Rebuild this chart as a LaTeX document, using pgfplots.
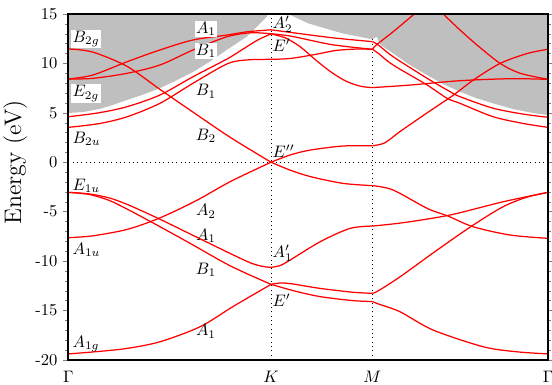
\documentclass[border=0pt]{standalone}
\usepackage{pgfplots}
\pgfplotsset{compat=1.18}
\pgfplotsset{band/.style={red, line width=0.75pt, smooth, mark=none}}
\tikzset{lab/.style={fill=white, inner sep=0.8pt}, labn/.style={inner sep=0.8pt}}
\begin{document}
\begin{tikzpicture}
\begin{axis}[
  scale only axis,
  width=287.8bp, height=207.5bp,
  xmin=0, xmax=2.366, ymin=-20, ymax=15,
  xtick={0,1,1.5,2.366},
  xticklabels={$\Gamma$,$K$,$M$,$\Gamma$},
  ytick={-20,-15,...,15},
  yticklabels={-20,-15,-10,-5,0,5,10,15},
  minor y tick num=4,
  tick align=outside,
  ytick pos=both, yticklabel pos=left,
  xtick style={draw=none},
  major tick length=3bp, minor tick length=1.8bp,
  axis line style={line width=1.2pt},
  axis on top,
  ylabel={Energy (eV)},
  ylabel style={font=\Large, at={(axis description cs:-0.111,0.571)}, anchor=center},
]
% high-symmetry lines and Fermi level
\addplot[black, dotted, line width=0.6pt] coordinates {(1,-20) (1,15)};
\addplot[black, dotted, line width=0.6pt] coordinates {(1.5,-20) (1.5,15)};
\addplot[black, dotted, line width=0.6pt] coordinates {(0,0) (2.366,0)};

% continuum (gray)
\addplot[draw=none, fill=black!25] coordinates {
(0,4.98) (0.08,5.1) (0.156,5.4) (0.22,5.8) (0.29,6.3) (0.37,6.85) (0.452,7.5)
(0.535,8.3) (0.617,9.16) (0.70,10.2) (0.781,11.36) (0.88,12.7) (0.93,13.7)
(0.979,14.73) (1.0,16) (1.05,15.8) (1.084,15) (1.183,14.06) (1.266,13.55)
(1.35,13.05) (1.498,12.44) (1.521,12.7) (1.538,11.9) (1.602,11.02) (1.68,9.9)
(1.768,8.83) (1.85,7.9) (1.931,7.14) (2.01,6.5) (2.095,5.96) (2.2,5.35)
(2.3,4.95) (2.366,4.78) (2.366,16.5) (0,16.5)};

% ---- Gamma - K ----
\addplot[band] coordinates {(0,-19.4) (0.15,-19.15) (0.29,-18.84) (0.452,-18.17) (0.65,-16.65) (0.813,-14.6) (1.0,-12.36)};
\addplot[band] coordinates {(0,-3.05) (0.1,-3.25) (0.2,-3.85) (0.3,-4.85) (0.45,-6.5) (0.6,-8.2) (0.8,-10.5) (1.0,-12.36)};
\addplot[band] coordinates {(0,-3.05) (0.1,-3.2) (0.2,-3.6) (0.3,-4.35) (0.45,-5.75) (0.6,-7.25) (0.8,-9.25) (0.9,-10.2) (0.96,-10.55) (1.0,-10.64)};
\addplot[band] coordinates {(0,-7.64) (0.12,-7.45) (0.29,-6.8) (0.45,-5.65) (0.63,-3.9) (0.8,-1.95) (1.0,0)};
\addplot[band] coordinates {(0,11.46) (0.12,11.15) (0.29,9.7) (0.45,7.4) (0.62,5.0) (0.8,2.5) (1.0,0)};
\addplot[band] coordinates {(0,8.42) (0.122,8.49) (0.29,9.0) (0.452,9.84) (0.615,11.36) (0.783,12.7) (0.9,13.1) (1.0,13.0)};
\addplot[band] coordinates {(0,8.42) (0.122,8.83) (0.29,10.17) (0.452,11.36) (0.615,12.37) (0.783,12.87) (0.882,13.2) (1.0,13.4)};
\addplot[band] coordinates {(0,4.6) (0.15,5.0) (0.29,5.62) (0.452,6.8) (0.615,8.65) (0.783,10.45) (0.855,11.36) (0.937,12.4) (1.0,12.98)};
\addplot[band] coordinates {(0,3.53) (0.15,3.9) (0.29,4.6) (0.452,5.96) (0.615,7.99) (0.783,9.95) (0.88,10.35) (1.0,10.41)};

% ---- K - M ----
\addplot[band] coordinates {(1.0,-12.36) (1.046,-12.22) (1.1,-12.3) (1.242,-12.77) (1.4,-13.15) (1.5,-13.27)};
\addplot[band] coordinates {(1.0,-12.36) (1.12,-13.05) (1.242,-13.6) (1.4,-14.0) (1.5,-14.1)};
\addplot[band] coordinates {(1.0,-10.64) (1.046,-10.45) (1.094,-9.9) (1.242,-8.05) (1.389,-6.7) (1.5,-6.46)};
\addplot[band] coordinates {(1.0,0) (1.094,0.73) (1.193,1.23) (1.355,1.64) (1.5,1.67)};
\addplot[band] coordinates {(1.0,0) (1.094,-0.8) (1.193,-1.45) (1.355,-2.14) (1.5,-2.37)};
\addplot[band] coordinates {(1.0,13.4) (1.11,13.1) (1.3,12.6) (1.5,12.2)};
\addplot[band] coordinates {(1.0,13.0) (1.1,12.75) (1.3,11.9) (1.5,11.43)};
\addplot[band] coordinates {(1.0,12.98) (1.069,12.6) (1.143,11.7) (1.217,10.4) (1.291,9.2) (1.365,8.25) (1.439,7.7) (1.5,7.55)};
\addplot[band] coordinates {(1.0,10.41) (1.094,10.5) (1.217,10.9) (1.316,11.3) (1.42,11.45) (1.5,11.43)};

% ---- M - Gamma ----
\addplot[band] coordinates {(1.5,-13.27) (1.53,-13.0) (1.636,-11.6) (1.819,-8.89) (1.997,-6.36) (2.145,-4.5) (2.26,-3.55) (2.366,-3.05)};
\addplot[band] coordinates {(1.5,-14.1) (1.53,-14.35) (1.636,-15.13) (1.799,-16.98) (2.046,-18.67) (2.21,-19.18) (2.366,-19.4)};
\addplot[band] coordinates {(1.5,-6.46) (1.651,-6.12) (1.883,-5.34) (2.145,-4.0) (2.366,-3.05)};
\addplot[band] coordinates {(1.5,1.67) (1.56,1.95) (1.636,3.1) (1.77,5.0) (1.9,6.8) (2.0,8.35) (2.13,10.0) (2.263,11.0) (2.366,11.43)};
\addplot[band] coordinates {(1.5,-2.37) (1.602,-2.81) (1.77,-4.67) (1.873,-5.45) (1.997,-6.53) (2.18,-7.37) (2.366,-7.7)};
\addplot[band] coordinates {(1.5,7.55) (1.686,7.81) (1.932,8.25) (2.18,8.45) (2.366,8.39)};
\addplot[band] coordinates {(1.5,12.2) (1.53,11.85) (1.602,10.68) (1.77,8.49) (1.883,7.14) (1.932,6.63) (2.096,5.46) (2.25,4.85) (2.366,4.55)};
\addplot[band] coordinates {(1.5,11.43) (1.53,11.0) (1.602,9.84) (1.77,7.81) (1.868,6.47) (1.932,5.96) (2.096,4.6) (2.25,3.9) (2.366,3.53)};
\addplot[band] coordinates {(1.5,11.43) (1.521,11.9) (1.602,13.2) (1.701,14.9) (1.75,15.7)};
\addplot[band] coordinates {(1.80,16.0) (1.849,15.0) (1.932,13.38) (2.016,11.86) (2.13,10.0) (2.229,9.0) (2.366,8.39)};

% ---- labels ----
\node[lab, anchor=west] at (axis cs:0.013,12.47) {$B_{2g}$};
\node[lab, anchor=west] at (axis cs:0.013,6.95) {$E_{2g}$};
\node[labn, anchor=west] at (axis cs:0.013,2.35) {$B_{2u}$};
\node[labn, anchor=west] at (axis cs:0.013,-2.41) {$E_{1u}$};
\node[labn, anchor=west] at (axis cs:0.013,-8.89) {$A_{1u}$};
\node[labn, anchor=west] at (axis cs:0.013,-18.4) {$A_{1g}$};
\node[lab] at (axis cs:0.679,13.48) {$A_1$};
\node[lab] at (axis cs:0.679,11.26) {$B_1$};
\node[labn] at (axis cs:0.679,7.16) {$B_1$};
\node[labn] at (axis cs:0.679,2.65) {$B_2$};
\node[labn] at (axis cs:0.679,-4.99) {$A_2$};
\node[labn] at (axis cs:0.679,-7.47) {$A_1$};
\node[labn] at (axis cs:0.679,-10.91) {$B_1$};
\node[labn] at (axis cs:0.679,-17.1) {$A_1$};
\node[labn, anchor=west] at (axis cs:1.0,13.99) {$A_2'$};
\node[labn, anchor=west] at (axis cs:1.0,11.86) {$E'$};
\node[labn, anchor=west] at (axis cs:1.0,1.13) {$E''$};
\node[labn, anchor=west] at (axis cs:1.0,-9.19) {$A_1'$};
\node[labn, anchor=west] at (axis cs:1.0,-13.95) {$E'$};
\end{axis}
\pgfresetboundingbox
\path[use as bounding box] ([shift={(-40.98bp,-14.52bp)}]current axis.south west) rectangle ([shift={(2.4bp,8.4bp)}]current axis.north east);
\end{tikzpicture}
\end{document}
